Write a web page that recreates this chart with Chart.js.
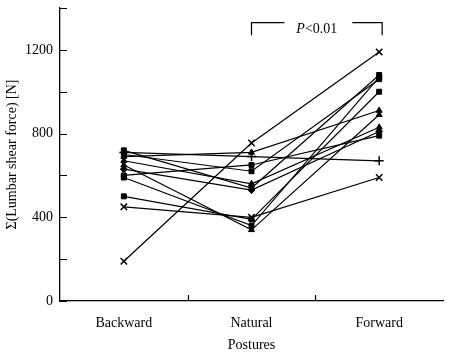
<!DOCTYPE html>
<html>
<head>
<meta charset="utf-8">
<script src="https://cdn.jsdelivr.net/npm/chart.js@4"></script>
<style>
  html, body { margin: 0; padding: 0; background: #fff; }
  #wrap { width: 449px; height: 356px; }
</style>
</head>
<body>
<div id="wrap"><canvas id="chart"></canvas></div>
<script>
// Categories and per-subject values (N)
const postures = ['Backward', 'Natural', 'Forward'];
const backward = [190, 710, 720, 700, 500, 690, 650, 670, 600, 630, 450, 590];
const natural  = [755, 690, 540, 620, 390, 710, 340, 560, 650, 530, 400, 360];
const forward  = [1190, 670, 1080, 1060, 1000, 910, 890, 830, 790, 810, 590, 1070];
const markers  = ['crossRot', 'cross', 'rect', 'rect', 'rect', 'triangle', 'triangle', 'triangle', 'rect', 'rectRot', 'crossRot', 'rect'];
const yTicks = [0, 400, 800, 1200];

const serif = 'Liberation Serif';

const datasets = backward.map(function(b, i) {
    const style = markers[i];
    const stroked = style === 'cross' || style === 'crossRot';
    return {
        label: 'S' + (i + 1),
        data: [b, natural[i], forward[i]],
        borderColor: '#000',
        backgroundColor: '#000',
        borderWidth: 1.2,
        pointStyle: style,
        pointRadius: stroked ? 4.5 : 3.5,
        pointBorderWidth: stroked ? 1.5 : 1,
        pointBackgroundColor: '#000',
        pointBorderColor: '#000',
        tension: 0
    };
});

// inward tick marks on both axes + significance bracket
const extras = {
    id: 'extras',
    afterDraw(chart) {
        const ctx = chart.ctx;
        const x = chart.scales.x, y = chart.scales.y;
        const area = chart.chartArea;
        ctx.save();
        ctx.strokeStyle = '#000';
        ctx.lineWidth = 1.2;
        ctx.beginPath();
        for (let v = 0; v <= 1400; v += 200) {
            const py = Math.round(y.getPixelForValue(v)) + 0.5;
            ctx.moveTo(area.left, py);
            ctx.lineTo(area.left + 7, py);
        }
        [0.5, 1.5].forEach(function(v) {
            const px = Math.round(x.getPixelForValue(v)) + 0.5;
            ctx.moveTo(px, area.bottom);
            ctx.lineTo(px, area.bottom - 6);
        });
        ctx.stroke();

        // bracket Natural -> Forward
        const x1 = x.getPixelForValue(1);
        const x2 = x.getPixelForValue(2) + 3;
        const yTop = y.getPixelForValue(1330);
        const yBot = y.getPixelForValue(1270);
        const mid = (x1 + x2) / 2;
        ctx.font = 'italic 14px "' + serif + '"';
        const wP = ctx.measureText('P').width;
        ctx.font = '14px "' + serif + '"';
        const wRest = ctx.measureText('<0.01').width;
        const tl = mid - (wP + wRest) / 2;
        const tr = tl + wP + wRest;
        ctx.beginPath();
        ctx.moveTo(x1, yBot); ctx.lineTo(x1, yTop); ctx.lineTo(tl - 12, yTop);
        ctx.moveTo(tr + 15, yTop); ctx.lineTo(x2, yTop); ctx.lineTo(x2, yBot);
        ctx.stroke();
        ctx.fillStyle = '#000';
        ctx.textBaseline = 'alphabetic';
        ctx.textAlign = 'left';
        ctx.font = 'italic 14px "' + serif + '"';
        ctx.fillText('P', tl, yTop + 10);
        ctx.font = '14px "' + serif + '"';
        ctx.fillText('<0.01', tl + wP, yTop + 10);
        ctx.restore();
    }
};

new Chart(document.getElementById('chart'), {
    type: 'line',
    data: { labels: postures, datasets: datasets },
    options: {
        responsive: true,
        maintainAspectRatio: false,
        animation: false,
        layout: { padding: { top: 8, right: -6, left: 0, bottom: 0 } },
        plugins: {
            legend: { display: false },
            tooltip: { enabled: false }
        },
        scales: {
            x: {
                offset: true,
                grid: { display: false, drawTicks: false },
                border: { display: true, color: '#000', width: 1.3 },
                ticks: { color: '#000', padding: 14, font: { family: serif, size: 14 } },
                title: {
                    display: true,
                    text: 'Postures',
                    color: '#000',
                    font: { family: serif, size: 14 },
                    padding: { top: 0, bottom: 2 }
                },
                afterFit(scale) {
                    scale.height = 55;
                    scale.paddingLeft = 0;
                    scale.paddingRight = 0;
                }
            },
            y: {
                min: 0,
                max: 1400,
                grid: { display: false, drawTicks: false },
                border: { display: true, color: '#000', width: 1.3 },
                afterBuildTicks(scale) {
                    scale.ticks = yTicks.map(function(v) { return { value: v }; });
                },
                ticks: {
                    color: '#000',
                    padding: 7,
                    font: { family: serif, size: 14 },
                    callback: function(v) { return String(v); }
                },
                title: {
                    display: true,
                    text: 'Σ(Lumbar shear force) [N]',
                    color: '#000',
                    font: { family: serif, size: 14 },
                    padding: { top: 4, bottom: 0 }
                },
                afterFit(scale) {
                    scale.width = 60;
                    scale.paddingTop = 0;
                    scale.paddingBottom = 0;
                }
            }
        }
    },
    plugins: [extras]
});
</script>
</body>
</html>
